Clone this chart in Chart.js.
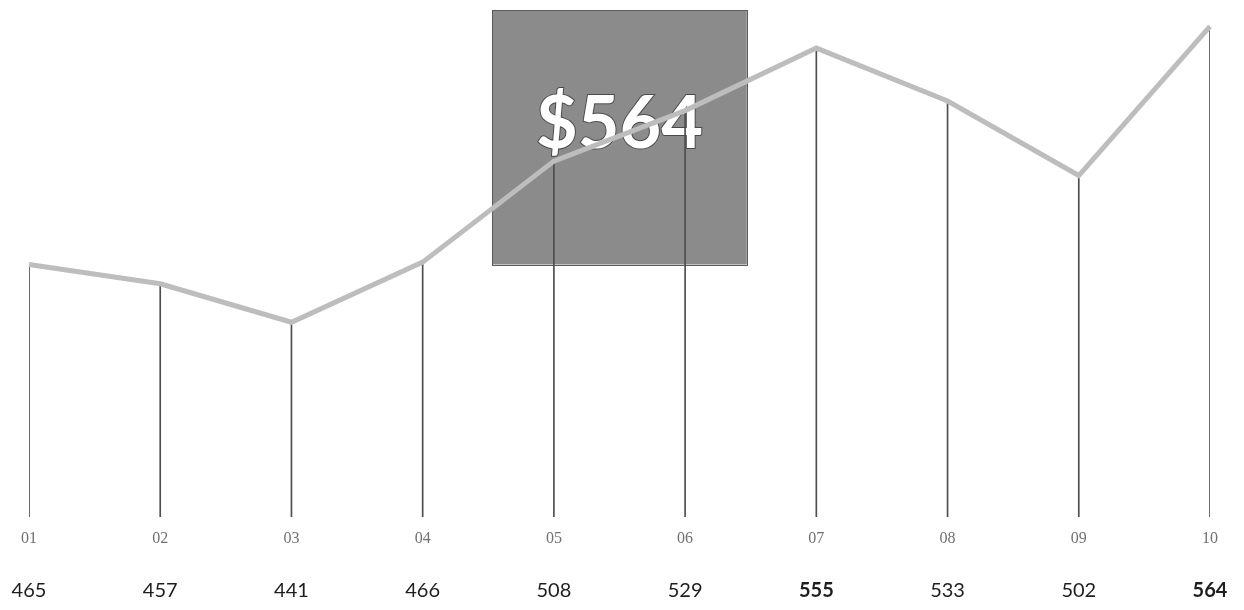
<!DOCTYPE html>
<html>
<head>
<meta charset="utf-8">
<title>Monthly values</title>
<script src="https://cdn.jsdelivr.net/npm/chart.js@4.4.1/dist/chart.umd.min.js"></script>
<style>
  html, body { margin: 0; padding: 0; background: #ffffff; }
  #wrap { width: 1244px; height: 610px; position: relative; }
</style>
</head>
<body>
<div id="wrap"><canvas id="chart" width="1244" height="610"></canvas></div>
<script>
// Period labels and their values
const periods = ['01', '02', '03', '04', '05', '06', '07', '08', '09', '10'];
const values = [465, 457, 441, 466, 508, 529, 555, 533, 502, 564];
// Values printed in bold in the bottom row
const highlighted = [555, 564];
const valueLabels = values.map(String);
const yMin = 360;
const yMax = 575;

// Grey callout panel with the latest value, drawn beneath the series
const calloutPanel = {
  id: 'calloutPanel',
  beforeDatasetsDraw(chart) {
    const { ctx, chartArea, scales } = chart;
    const x = scales.x, y = scales.y;
    const step = x.getPixelForValue(1) - x.getPixelForValue(0);
    const cx = (x.getPixelForValue(4) + x.getPixelForValue(5)) / 2;
    const w = step * 1.94;
    const top = chartArea.top + 10;
    const bottom = y.getPixelForValue(values[0]);
    ctx.save();
    ctx.fillStyle = '#8b8b8b';
    ctx.fillRect(cx - w / 2, top, w, bottom - top);
    ctx.strokeStyle = '#5a5a5a';
    ctx.lineWidth = 1;
    ctx.strokeRect(Math.round(cx - w / 2) + 0.5, Math.round(top) + 0.5, Math.round(w), Math.round(bottom - top));
    ctx.font = 'bold 72px Lato, "Open Sans", sans-serif';
    ctx.textAlign = 'center';
    ctx.textBaseline = 'alphabetic';
    const label = '$' + values[values.length - 1];
    ctx.lineWidth = 2;
    ctx.strokeStyle = '#4a4a4a';
    ctx.strokeText(label, cx, top + 138);
    ctx.fillStyle = '#ffffff';
    ctx.fillText(label, cx, top + 138);
    ctx.restore();
  }
};

// Keep the plot edges fixed by the layout padding alone
const noEdgePadding = (scale) => {
  scale.paddingLeft = 0;
  scale.paddingRight = 0;
};

new Chart(document.getElementById('chart'), {
  data: {
    labels: periods,
    datasets: [
      {
        type: 'line',
        data: values,
        borderColor: '#bdbdbd',
        borderWidth: 5,
        pointRadius: 0,
        tension: 0,
        clip: false,
        order: 1
      },
      {
        type: 'bar',
        data: values,
        backgroundColor: '#4d4d4d',
        barThickness: 1,
        order: 2
      }
    ]
  },
  options: {
    responsive: false,
    animation: false,
    layout: { padding: { left: 29, right: 34, top: 0, bottom: 0 } },
    plugins: { legend: { display: false }, tooltip: { enabled: false } },
    scales: {
      x: {
        type: 'category',
        offset: false,
        position: 'bottom',
        grid: { display: false, drawTicks: false },
        border: { display: false },
        afterFit: (scale) => { scale.height = 28; noEdgePadding(scale); },
        ticks: {
          padding: 12,
          color: '#707070',
          font: { family: '"Liberation Serif", "DejaVu Serif", serif', size: 16 },
          maxRotation: 0,
          autoSkip: false
        }
      },
      x2: {
        type: 'category',
        labels: valueLabels,
        offset: false,
        position: 'bottom',
        grid: { display: false, drawTicks: false },
        border: { display: false },
        afterFit: (scale) => { scale.height = 65; noEdgePadding(scale); },
        ticks: {
          padding: 34,
          color: '#1e1e1e',
          font: (ctx) => ({
            family: 'Lato, "Open Sans", sans-serif',
            size: 20,
            weight: highlighted.includes(values[ctx.index]) ? 'bold' : 'normal'
          }),
          maxRotation: 0,
          autoSkip: false
        }
      },
      y: {
        display: false,
        min: yMin,
        max: yMax
      }
    }
  },
  plugins: [calloutPanel]
});
</script>
</body>
</html>
